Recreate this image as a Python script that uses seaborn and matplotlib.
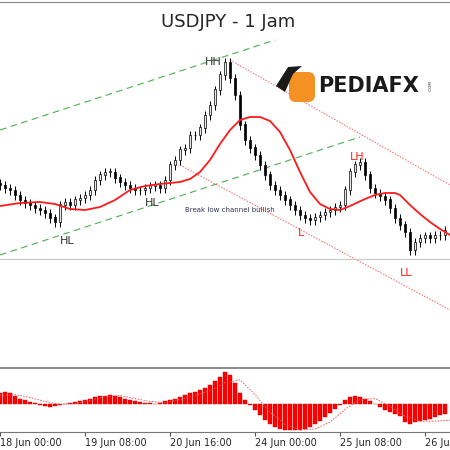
import numpy as np
import matplotlib
matplotlib.use("Agg")
import matplotlib.pyplot as plt
import seaborn as sns
from matplotlib.patches import FancyBboxPatch, Polygon

# ---------------- DATA (in screen rows) ----------------
close_rows = [185, 188, 190, 195, 200, 203, 205, 208, 210, 213, 218, 222, 205, 202, 205, 200,
              198, 195, 190, 180, 175, 172, 172, 178, 182, 185, 188, 190, 190, 188, 186, 185,
              188, 180, 165, 160, 150, 148, 135, 135, 128, 115, 105, 90, 75, 62, 78, 95,
              125, 140, 148, 155, 165, 175, 185, 190, 195, 200, 205, 210, 215, 218, 220, 217,
              215, 212, 210, 207, 205, 190, 172, 165, 162, 175, 188, 193, 196, 200, 208, 218,
              225, 232, 250, 242, 238, 236, 238, 235, 235, 230]
ma_x = [0, 4, 8, 11, 14, 17, 20, 23, 26, 29, 32, 34, 36, 38, 40, 42, 43, 44, 46, 48, 50, 52,
        54, 56, 58, 60, 62, 64, 66, 68, 70, 73, 75, 77, 79, 80, 82, 84, 86, 88, 90]
ma_rows = [206, 203, 202, 204, 209, 210, 207, 200, 190, 186, 184, 183, 182, 179, 172, 160,
           152, 144, 130, 120, 117, 117, 121, 132, 150, 172, 192, 204, 209, 210, 206, 199,
           195, 193, 193, 195, 205, 214, 222, 229, 235]
hist = [12, 13, 12, 9, 6, 4, 2, 1, -1, -2, -3, -2, -1, 0, 1, 2, 3, 5, 6, 8, 9, 9, 10, 9, 8, 6,
        4, 3, 2, 1, 1, 0, 1, 3, 5, 6, 8, 10, 12, 13, 15, 17, 20, 24, 28, 33, 30, 22, 12, 4, -1,
        -6, -11, -16, -20, -23, -25, -26, -26, -26, -26, -25, -23, -20, -17, -13, -9, -5, -1, 4,
        8, 9, 8, 6, 3, 0, -3, -6, -8, -10, -12, -18, -20, -18, -17, -16, -15, -13, -11, -10]
signal_x = list(range(0, 93, 3))
signal = [9, 10, 7, 3, 0, 1, 4, 8, 9, 6, 3, 2, 5, 9, 14, 22, 25, 10, -8, -20, -26, -25, -18,
          -5, 5, 6, -2, -12, -17, -17, -16]
tick_pos = [0, 17, 34, 51, 68, 85]
tick_labels = ["18 Jun 00:00", "19 Jun 08:00", "20 Jun 16:00", "24 Jun 00:00",
               "25 Jun 08:00", "26 Jun 16:00"]
# channel / trend lines (bar index, row)
green_up = ([0, 55], [130, 40])
green_low = ([0, 72], [255, 137])
red_up = ([46, 90], [60, 185])
red_low = ([36, 90], [165, 310])
support_row = 259
labels = [("HH", 41, 62, "#333333"), ("HL", 29, 203, "#333333"), ("HL", 12, 241, "#333333"),
          ("LH", 70, 157, "#ff2020"), ("L", 59.5, 233, "#ff2020"), ("LL", 80, 273, "#ff2020")]


def price(rows):
    return 106 + (365 - np.asarray(rows, dtype=float)) / 100


sns.set_style("white")
fig = plt.figure(figsize=(4.5, 4.5), dpi=100)
W = H = 450.0
ax = fig.add_axes([0, 1 - 366 / H, 1, 364 / H])
axm = fig.add_axes([0, 1 - 432 / H, 1, 64 / H])

close = price(close_rows)
opens = np.r_[close[0] + 0.02, close[:-1]]
x = np.arange(len(close))
top = np.maximum(opens, close)
bot = np.minimum(opens, close)
ax.vlines(x, bot - 0.05, top + 0.04, color="black", lw=0.7, zorder=3)
up = close >= opens
ax.bar(x[up], (top - bot)[up] + 0.005, bottom=bot[up], width=0.45, color="#e8e8e8",
       edgecolor="black", lw=0.5, zorder=4)
ax.bar(x[~up], (top - bot)[~up] + 0.005, bottom=bot[~up], width=0.45, color="black",
       edgecolor="black", lw=0.5, zorder=4)

sns.lineplot(x=ma_x, y=price(ma_rows), ax=ax, color="#ff1a1a", lw=1.3, zorder=5)
ax.plot(green_up[0], price(green_up[1]), color="#4caf50", lw=0.8, dashes=(6, 4))
ax.plot(green_low[0], price(green_low[1]), color="#4caf50", lw=0.8, dashes=(6, 4))
ax.plot(red_up[0], price(red_up[1]), color="#ff6060", lw=0.7, ls=(0, (1.5, 1.5)))
ax.plot(red_low[0], price(red_low[1]), color="#ff6060", lw=0.7, ls=(0, (1.5, 1.5)))
ax.axhline(price(support_row), color="#c8c8c8", lw=0.8)

for txt, xi, row, col in labels:
    ax.text(xi, price(row), txt, color=col, fontsize=8, ha="left", va="center", zorder=6)
ax.text(37, price(210), "Break low channel bullish", fontsize=5, color="#333355", va="center")
fig.text(228 / W, 1 - 22 / H, "USDJPY - 1 Jam", fontsize=13, ha="center", va="center")

# logo (figure pixel coordinates)
pix = fig.transFigure
ax_logo = fig.add_axes([0, 0, 1, 1], facecolor="none")
ax_logo.set_xlim(0, W)
ax_logo.set_ylim(H, 0)
ax_logo.axis("off")
ax_logo.add_patch(FancyBboxPatch((291, 74), 22, 26, boxstyle="round,pad=2,rounding_size=7",
                                 fc="#f39223", ec="none"))
ax_logo.add_patch(Polygon([[276, 86], [288, 67], [302, 66], [293, 74], [285, 92]],
                          fc="#1a1a1a", ec="none"))
ax_logo.text(318, 86, "PEDIAFX", fontsize=15, weight="bold", color="#1a1a1a", va="center")
ax_logo.text(431, 86, ".COM", fontsize=3, rotation=90, va="center", ha="center")

ax.set_xlim(0, 90)
ax.set_ylim(price(366), price(2))
ax.set_xticks([])
ax.set_yticks([])
for s in ["left", "right", "bottom"]:
    ax.spines[s].set_visible(False)
ax.spines["top"].set_color("#888888")

axm.bar(x, hist, width=0.7, color="#ff0000", edgecolor="#cc0000", lw=0.3)
axm.plot(signal_x, signal, color="#ff5050", lw=0.7, ls=(0, (1.5, 1.5)))
axm.set_xlim(0, 90)
axm.set_ylim(-28, 37)
axm.set_yticks([])
axm.set_xticks(tick_pos)
axm.set_xticklabels(tick_labels, fontsize=7, ha="left")
axm.tick_params(axis="x", length=3, pad=1, color="#555555", bottom=True)
for s in ["left", "right"]:
    axm.spines[s].set_visible(False)
axm.spines["top"].set_color("#777777")
axm.spines["top"].set_linewidth(1.2)
axm.spines["bottom"].set_color("#777777")

fig.savefig("out.png", dpi=100)
